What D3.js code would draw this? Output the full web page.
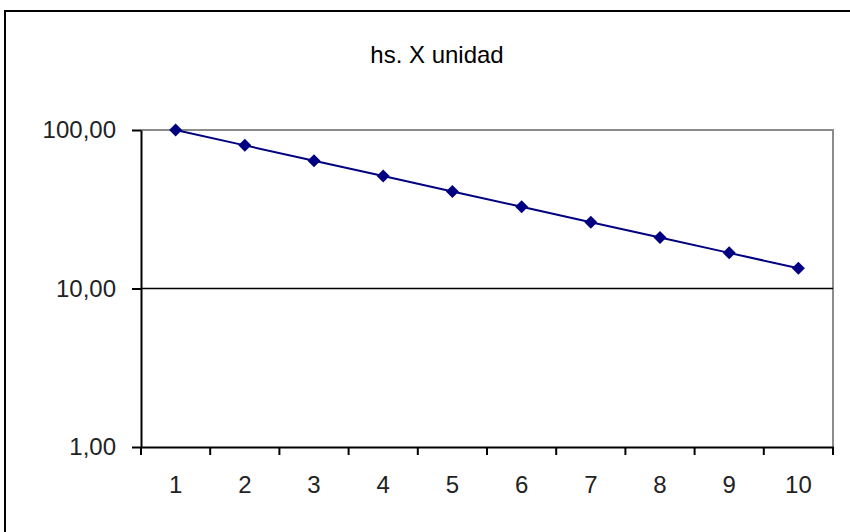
<!DOCTYPE html>
<html>
<head>
<meta charset="utf-8">
<script src="https://cdn.jsdelivr.net/npm/d3@7"></script>
<style>
  body { margin: 0; background: #fff; }
  svg { display: block; font-family: "Liberation Sans", Arial, sans-serif; }
</style>
</head>
<body>
<div id="chart"></div>
<script>
// Data
const categories = ['1', '2', '3', '4', '5', '6', '7', '8', '9', '10'];
const hoursPerUnit = [100, 80, 64, 51.2, 40.96, 32.77, 26.21, 20.97, 16.78, 13.42];
const yTickValues = [1, 10, 100];
const yTickLabels = ['1,00', '10,00', '100,00'];
const chartTitle = 'hs. X unidad';

const width = 850;
const height = 532;
const plot = { left: 141, right: 833, top: 130, bottom: 447 };

const svg = d3
  .select('#chart')
  .append('svg')
  .attr('width', width)
  .attr('height', height);

// Outer chart border (runs off the right and bottom edges)
svg
  .append('rect')
  .attr('x', 5)
  .attr('y', 11)
  .attr('width', 900)
  .attr('height', 600)
  .attr('fill', '#fff')
  .attr('stroke', '#000')
  .attr('stroke-width', 2);

// Title
svg
  .append('text')
  .attr('x', 437)
  .attr('y', 63)
  .attr('text-anchor', 'middle')
  .attr('font-size', 24)
  .attr('fill', '#000')
  .text(chartTitle);

// Scales
const xScale = d3.scaleBand().domain(categories).range([plot.left, plot.right]).padding(0);
const yScale = d3.scaleLog().domain([1, 100]).range([plot.bottom, plot.top]);

// Plot area border (grey top and right)
svg
  .append('path')
  .attr('d', `M${plot.left},${plot.top}H${plot.right}V${plot.bottom}`)
  .attr('fill', 'none')
  .attr('stroke', '#8c8c8c')
  .attr('stroke-width', 2);

// Gridline at the middle decade
svg
  .append('g')
  .selectAll('line')
  .data(yTickValues.filter((v) => v === 10))
  .enter()
  .append('line')
  .attr('x1', plot.left)
  .attr('x2', plot.right)
  .attr('y1', (d) => yScale(d))
  .attr('y2', (d) => yScale(d))
  .attr('stroke', '#000')
  .attr('stroke-width', 1.6);

// Y axis
const yAxis = d3
  .axisLeft(yScale)
  .tickValues(yTickValues)
  .tickFormat((d, i) => yTickLabels[i])
  .tickSizeInner(9)
  .tickSizeOuter(0)
  .tickPadding(16);

const gy = svg.append('g').attr('transform', `translate(${plot.left},0)`).call(yAxis);
gy.select('.domain').attr('stroke', '#000').attr('stroke-width', 2);
gy.selectAll('.tick line').attr('stroke', '#000').attr('stroke-width', 2);
gy.selectAll('.tick text').attr('font-size', 24).attr('fill', '#222').attr('font-family', null);

// X axis: labels at category centres
const xAxis = d3.axisBottom(xScale).tickSize(0).tickPadding(29);
const gx = svg.append('g').attr('transform', `translate(0,${plot.bottom})`).call(xAxis);
gx.select('.domain').attr('stroke', '#000').attr('stroke-width', 2);
gx.selectAll('.tick text').attr('font-size', 24).attr('fill', '#222').attr('font-family', null);

// X tick marks between categories
const edges = categories.map((c) => xScale(c)).concat([xScale.range()[1]]);
gx.selectAll('.edge-tick')
  .data(edges)
  .enter()
  .append('line')
  .attr('class', 'edge-tick')
  .attr('x1', (d) => d)
  .attr('x2', (d) => d)
  .attr('y1', 0)
  .attr('y2', 8)
  .attr('stroke', '#000')
  .attr('stroke-width', 2);

// Series line
const points = categories.map((c, i) => ({ cat: c, value: hoursPerUnit[i] }));
const line = d3
  .line()
  .x((d) => xScale(d.cat) + xScale.bandwidth() / 2)
  .y((d) => yScale(d.value));

svg
  .append('path')
  .datum(points)
  .attr('d', line)
  .attr('fill', 'none')
  .attr('stroke', '#000080')
  .attr('stroke-width', 2);

// Diamond markers
const diamond = 'M0,-6.5L6.5,0L0,6.5L-6.5,0Z';
svg
  .selectAll('.marker')
  .data(points)
  .enter()
  .append('path')
  .attr('class', 'marker')
  .attr('d', diamond)
  .attr('transform', (d) => `translate(${xScale(d.cat) + xScale.bandwidth() / 2},${yScale(d.value)})`)
  .attr('fill', '#000080');
</script>
</body>
</html>
